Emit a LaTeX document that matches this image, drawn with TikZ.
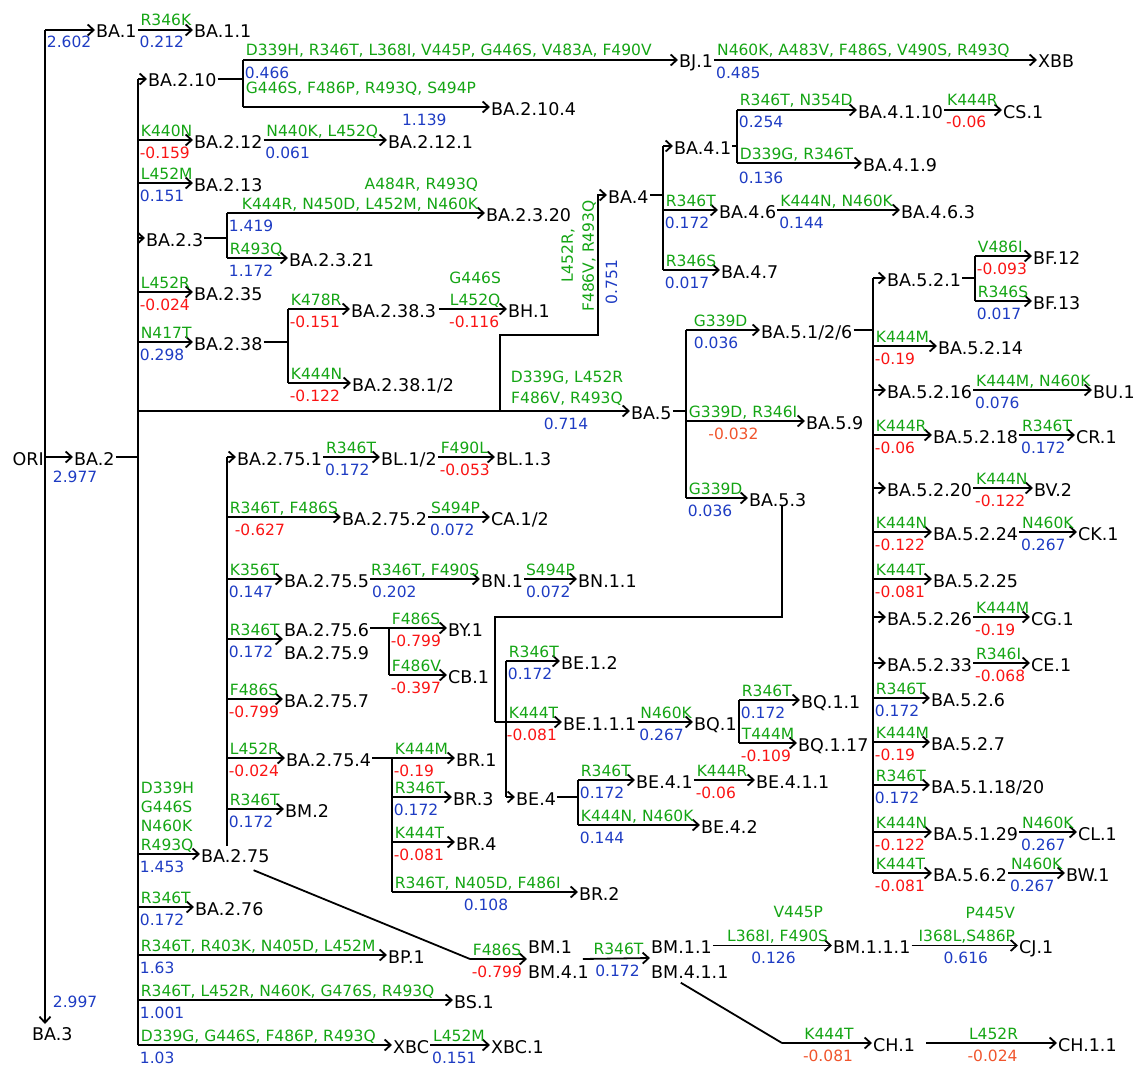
\documentclass[tikz,border=0pt]{standalone}
\usepackage{fontspec}
\setmainfont{DejaVu Sans}
\usetikzlibrary{arrows.meta}
\definecolor{cgreen}{RGB}{20,165,20}
\definecolor{cblue}{RGB}{30,60,195}
\definecolor{cred}{RGB}{250,20,20}
\definecolor{corange}{RGB}{240,85,45}
\newcommand{\linfont}{\fontsize{17.5}{21}\selectfont}
\newcommand{\mutfont}{\fontsize{15.5}{21}\selectfont}

\begin{document}
\begin{tikzpicture}[x=1pt, y=-1pt,
  ln/.style={line width=1.8pt},
  arr/.style={ln, -{Straight Barb[length=6pt, width=11pt]}},
  lin/.style={font=\linfont, anchor=west, inner xsep=1pt, inner ysep=0pt,
              text height=16pt, text depth=0pt},
  mut/.style={font=\mutfont, text=cgreen, anchor=base west, inner sep=0pt,
              xshift=2pt, yshift=4pt},
  vb/.style={font=\mutfont, text=cblue, anchor=base west, inner sep=0pt,
             xshift=1pt, yshift=-18pt},
  vr/.style={vb, text=cred},
  vo/.style={vb, text=corange},
  ctr/.style={anchor=base, pos=0.5},
  rgt/.style={anchor=base east, pos=1, xshift=-8pt},
]
\useasboundingbox (0,0) rectangle (1136,1065);

% root
\coordinate (b0) at (45,30);
\node[lin] (ba1) at (95,30) {BA.1};
\node[lin] (ba11) at (193,30) {BA.1.1};
\node[lin, anchor=east] (ori) at (45,457) {ORI};
\node[lin] (ba2) at (73,457) {BA.2};
\node[lin, anchor=north west] (ba3) at (31,1024) {BA.3};
\draw[arr] (b0) -- (b0 |- ba3.north) node[vb, pos=1, xshift=6pt, yshift=35pt] (v-ba3) {2.997};
\draw[arr] (b0) -- (ba1.west) node[vb, pos=0] (v-ba1) {2.602};
\draw[arr] (ori.east) -- (ba2.west) node[vb, pos=0, xshift=6pt, yshift=-7pt] (v-ba2) {2.977};
\draw[arr] (ba1.east) -- (ba11.west) node[mut, pos=0] (m-ba11) {R346K} node[vb, pos=0] (v-ba11) {0.212};

% BA.2 children
\coordinate (b2) at (138,79);
\node[lin] (ba210) at (147,79) {BA.2.10};
\node[lin] (ba212) at (193,140) {BA.2.12};
\node[lin] (ba213) at (193,183) {BA.2.13};
\node[lin] (ba23) at (145,238) {BA.2.3};
\node[lin] (ba235) at (193,292) {BA.2.35};
\node[lin] (ba238) at (193,342) {BA.2.38};
\coordinate (j5) at (500,411);
\node[lin] (ba275) at (200,854) {BA.2.75};
\node[lin] (ba276) at (194,907) {BA.2.76};
\node[lin] (bp1) at (387,955) {BP.1};
\node[lin] (bs1) at (453,1000) {BS.1};
\node[lin] (xbc) at (392,1045) {XBC};
\node[lin] (xbc1) at (490,1045) {XBC.1};
\draw[ln] (ba2.east) -- (ba2.east -| b2);
\draw[ln] (b2) -- (b2 |- xbc.west);
\draw[arr] (b2) -- (ba210.west);
\draw[arr] (b2 |- ba212.west) -- (ba212.west) node[mut, pos=0] (m-ba212) {K440N} node[vr, pos=0] (v-ba212) {-0.159};
\draw[arr] (b2 |- ba213.west) -- (ba213.west) node[mut, pos=0] (m-ba213) {L452M} node[vb, pos=0] (v-ba213) {0.151};
\draw[arr] (b2 |- ba23.west) -- (ba23.west);
\draw[arr] (b2 |- ba235.west) -- (ba235.west) node[mut, pos=0] (m-ba235) {L452R} node[vr, pos=0] (v-ba235) {-0.024};
\draw[arr] (b2 |- ba238.west) -- (ba238.west) node[mut, pos=0] (m-ba238) {N417T} node[vb, pos=0] (v-ba238) {0.298};
\draw[arr] (b2 |- ba275.west) -- (ba275.west)
  node[mut, pos=0] (m-ba275) {R493Q}
  node[mut, pos=0, yshift=19pt] (m2-ba275) {N460K}
  node[mut, pos=0, yshift=38pt] (m3-ba275) {G446S}
  node[mut, pos=0, yshift=57pt] (m4-ba275) {D339H}
  node[vb, pos=0] (v-ba275) {1.453};
\draw[arr] (b2 |- ba276.west) -- (ba276.west) node[mut, pos=0] (m-ba276) {R346T} node[vb, pos=0] (v-ba276) {0.172};
\draw[arr] (b2 |- bp1.west) -- (bp1.west) node[mut, pos=0] (m-bp1) {R346T, R403K, N405D, L452M} node[vb, pos=0] (v-bp1) {1.63};
\draw[arr] (b2 |- bs1.west) -- (bs1.west) node[mut, pos=0] (m-bs1) {R346T, L452R, N460K, G476S, R493Q} node[vb, pos=0] (v-bs1) {1.001};
\draw[arr] (b2 |- xbc.west) -- (xbc.west) node[mut, pos=0] (m-xbc) {D339G, G446S, F486P, R493Q} node[vb, pos=0] (v-xbc) {1.03};
\draw[arr] (xbc.east) -- (xbc1.west) node[mut, pos=0] (m-xbc1) {L452M} node[vb, pos=0] (v-xbc1) {0.151};

% BA.2.10
\coordinate (k210) at (243,60);
\node[lin] (bj1) at (678,60) {BJ.1};
\node[lin] (xbb) at (1037,60) {XBB};
\node[lin] (ba2104) at (490,107) {BA.2.10.4};
\draw[ln] (ba210.east) -- (ba210.east -| k210);
\draw[ln] (k210) -- (k210 |- ba2104.west);
\draw[arr] (k210) -- (bj1.west) node[mut, pos=0] (m-bj1) {D339H, R346T, L368I, V445P, G446S, V483A, F490V} node[vb, pos=0] (v-bj1) {0.466};
\draw[arr] (k210 |- ba2104.west) -- (ba2104.west) node[mut, pos=0, yshift=9pt] (m-ba2104) {G446S, F486P, R493Q, S494P} node[vb, pos=0.73, anchor=base] (v-ba2104) {1.139};
\draw[arr] (bj1.east) -- (xbb.west) node[mut, pos=0] (m-xbb) {N460K, A483V, F486S, V490S, R493Q} node[vb, pos=0] (v-xbb) {0.485};

% BA.2.12
\node[lin] (ba2121) at (387,140) {BA.2.12.1};
\draw[arr] (ba212.east) -- (ba2121.west) node[mut, pos=0] (m-ba2121) {N440K, L452Q} node[vb, pos=0] (v-ba2121) {0.061};

% BA.2.3
\coordinate (k23) at (227,213);
\node[lin] (ba2320) at (485,213) {BA.2.3.20};
\node[lin] (ba2321) at (288,258) {BA.2.3.21};
\draw[ln] (ba23.east) -- (ba23.east -| k23);
\draw[ln] (k23) -- (k23 |- ba2321.west);
\draw[arr] (k23) -- (ba2320.west)
  node[mut, rgt] (m-ba2320) {K444R, N450D, L452M, N460K}
  node[mut, rgt, yshift=20pt] (m2-ba2320) {A484R, R493Q}
  node[vb, pos=0] (v-ba2320) {1.419};
\draw[arr] (k23 |- ba2321.west) -- (ba2321.west) node[mut, pos=0] (m-ba2321) {R493Q} node[vb, pos=0] (v-ba2321) {1.172};

% BA.2.38
\coordinate (k238) at (288,309);
\node[lin] (ba2383) at (350,309) {BA.2.38.3};
\node[lin] (ba23812) at (351,383) {BA.2.38.1/2};
\node[lin] (bh1) at (507,309) {BH.1};
\draw[ln] (ba238.east) -- (ba238.east -| k238);
\draw[ln] (k238) -- (k238 |- ba23812.west);
\draw[arr] (k238) -- (ba2383.west) node[mut, pos=0] (m-ba2383) {K478R} node[vr, pos=0] (v-ba2383) {-0.151};
\draw[arr] (k238 |- ba23812.west) -- (ba23812.west) node[mut, pos=0] (m-ba23812) {K444N} node[vr, pos=0] (v-ba23812) {-0.122};
\draw[arr] ([xshift=2pt]ba2383.east) -- (bh1.west)
  node[mut, ctr] (m-bh1) {L452Q}
  node[mut, ctr, yshift=22pt] (m2-bh1) {G446S}
  node[vr, ctr] (v-bh1) {-0.116};

% BA.5 and BA.4
\coordinate (k4) at (598,335);
\node[lin] (ba5) at (630,411) {BA.5};
\node[lin] (ba4) at (607,195) {BA.4};
\draw[ln] (b2 |- j5) -- (j5);
\draw[arr] (j5) -- (ba5.west)
  node[mut, ctr, yshift=4pt] (m-ba5) {F486V, R493Q}
  node[mut, ctr, yshift=25pt] (m2-ba5) {D339G, L452R}
  node[vb, ctr] (v-ba5) {0.714};
\draw[arr] (j5) |- (k4) |- (ba4.west);
\node[font=\mutfont, text=cgreen, rotate=90, align=center, anchor=south, inner sep=0pt] (m-ba4) at (596,256) {L452R,\\F486V, R493Q};
\node[font=\mutfont, text=cblue, rotate=90, anchor=base, inner sep=0pt] (v-ba4) at (617,282) {0.751};

% BA.4 children
\coordinate (k4b) at (663,146);
\node[lin] (ba41) at (673,146) {BA.4.1};
\node[lin] (ba46) at (718,210) {BA.4.6};
\node[lin] (ba47) at (720,270) {BA.4.7};
\draw[ln] (ba4.east) -- (ba4.east -| k4b);
\draw[ln] (k4b) -- (k4b |- ba47.west);
\draw[arr] (k4b) -- (ba41.west);
\draw[arr] (k4b |- ba46.west) -- (ba46.west) node[mut, pos=0] (m-ba46) {R346T} node[vb, pos=0] (v-ba46) {0.172};
\draw[arr] (k4b |- ba47.west) -- (ba47.west) node[mut, pos=0] (m-ba47) {R346S} node[vb, pos=0] (v-ba47) {0.017};
\coordinate (k41) at (737,110);
\node[lin] (ba4110) at (857,110) {BA.4.1.10};
\node[lin] (ba419) at (862,163) {BA.4.1.9};
\node[lin] (cs1) at (1002,110) {CS.1};
\node[lin] (ba463) at (900,210) {BA.4.6.3};
\draw[ln] (ba41.east) -- (ba41.east -| k41);
\draw[ln] (k41) -- (k41 |- ba419.west);
\draw[arr] (k41) -- (ba4110.west) node[mut, pos=0] (m-ba4110) {R346T, N354D} node[vb, pos=0] (v-ba4110) {0.254};
\draw[arr] (k41 |- ba419.west) -- (ba419.west) node[mut, pos=0] (m-ba419) {D339G, R346T} node[vb, pos=0, yshift=-2pt] (v-ba419) {0.136};
\draw[arr] (ba4110.east) -- (cs1.west) node[mut, pos=0] (m-cs1) {K444R} node[vr, pos=0] (v-cs1) {-0.06};
\draw[arr] (ba46.east) -- (ba463.west) node[mut, pos=0] (m-ba463) {K444N, N460K} node[vb, pos=0] (v-ba463) {0.144};

% BA.5 children
\coordinate (k5) at (686,330);
\node[lin] (ba5126) at (760,330) {BA.5.1/2/6};
\node[lin] (ba59) at (805,421) {BA.5.9};
\node[lin] (ba53) at (748,498) {BA.5.3};
\draw[ln] (ba5.east) -- (ba5.east -| k5);
\draw[ln] (k5) -- (k5 |- ba53.west);
\draw[arr] (k5) -- (ba5126.west) node[mut, pos=0, xshift=5pt] (m-ba5126) {G339D} node[vb, pos=0, xshift=6pt] (v-ba5126) {0.036};
\draw[arr] (k5 |- ba59.west) -- (ba59.west) node[mut, pos=0] (m-ba59) {G339D, R346I} node[vo, pos=0.39, anchor=base] (v-ba59) {-0.032};
\draw[arr] (k5 |- ba53.west) -- (ba53.west) node[mut, pos=0] (m-ba53) {G339D} node[vb, pos=0] (v-ba53) {0.036};

% BA.5.1/2/6 children
\coordinate (k5b) at (873,278);
\node[lin] (ba521) at (886,278) {BA.5.2.1};
\node[lin] (ba5214) at (937,346) {BA.5.2.14};
\node[lin] (ba5216) at (886,390) {BA.5.2.16};
\node[lin] (ba5218) at (932,435) {BA.5.2.18};
\node[lin] (ba5220) at (886,488) {BA.5.2.20};
\node[lin] (ba5224) at (932,532) {BA.5.2.24};
\node[lin] (ba5225) at (932,579) {BA.5.2.25};
\node[lin] (ba5226) at (886,617) {BA.5.2.26};
\node[lin] (ba5233) at (886,663) {BA.5.2.33};
\node[lin] (ba526) at (930,698) {BA.5.2.6};
\node[lin] (ba527) at (930,742) {BA.5.2.7};
\node[lin] (ba511820) at (930,785) {BA.5.1.18/20};
\node[lin] (ba5129) at (932,832) {BA.5.1.29};
\node[lin] (ba562) at (932,873) {BA.5.6.2};
\draw[ln] (ba5126.east) -- (ba5126.east -| k5b);
\draw[ln] (k5b) -- (k5b |- ba562.west);
\draw[arr] (k5b) -- (ba521.west);
\draw[arr] (k5b |- ba5214.west) -- (ba5214.west) node[mut, pos=0] (m-ba5214) {K444M} node[vr, pos=0] (v-ba5214) {-0.19};
\draw[arr] (k5b |- ba5216.west) -- (ba5216.west);
\draw[arr] (k5b |- ba5218.west) -- (ba5218.west) node[mut, pos=0] (m-ba5218) {K444R} node[vr, pos=0] (v-ba5218) {-0.06};
\draw[arr] (k5b |- ba5220.west) -- (ba5220.west);
\draw[arr] (k5b |- ba5224.west) -- (ba5224.west) node[mut, pos=0] (m-ba5224) {K444N} node[vr, pos=0] (v-ba5224) {-0.122};
\draw[arr] (k5b |- ba5225.west) -- (ba5225.west) node[mut, pos=0] (m-ba5225) {K444T} node[vr, pos=0] (v-ba5225) {-0.081};
\draw[arr] (k5b |- ba5226.west) -- (ba5226.west);
\draw[arr] (k5b |- ba5233.west) -- (ba5233.west);
\draw[arr] (k5b |- ba526.west) -- (ba526.west) node[mut, pos=0] (m-ba526) {R346T} node[vb, pos=0] (v-ba526) {0.172};
\draw[arr] (k5b |- ba527.west) -- (ba527.west) node[mut, pos=0] (m-ba527) {K444M} node[vr, pos=0] (v-ba527) {-0.19};
\draw[arr] (k5b |- ba511820.west) -- (ba511820.west) node[mut, pos=0] (m-ba511820) {R346T} node[vb, pos=0] (v-ba511820) {0.172};
\draw[arr] (k5b |- ba5129.west) -- (ba5129.west) node[mut, pos=0] (m-ba5129) {K444N} node[vr, pos=0] (v-ba5129) {-0.122};
\draw[arr] (k5b |- ba562.west) -- (ba562.west) node[mut, pos=0] (m-ba562) {K444T} node[vr, pos=0] (v-ba562) {-0.081};

% second level of BA.5.2.x
\coordinate (k521) at (975,256);
\node[lin] (bf12) at (1032,256) {BF.12};
\node[lin] (bf13) at (1032,301) {BF.13};
\node[lin] (bu1) at (1092,390) {BU.1};
\node[lin] (cr1) at (1075,435) {CR.1};
\node[lin] (bv2) at (1033,488) {BV.2};
\node[lin] (ck1) at (1077,532) {CK.1};
\node[lin] (cg1) at (1030,617) {CG.1};
\node[lin] (ce1) at (1030,663) {CE.1};
\node[lin] (cl1) at (1077,832) {CL.1};
\node[lin] (bw1) at (1065,873) {BW.1};
\draw[ln] (ba521.east) -- (ba521.east -| k521);
\draw[ln] (k521) -- (k521 |- bf13.west);
\draw[arr] (k521) -- (bf12.west) node[mut, pos=0] (m-bf12) {V486I} node[vr, pos=0] (v-bf12) {-0.093};
\draw[arr] (k521 |- bf13.west) -- (bf13.west) node[mut, pos=0] (m-bf13) {R346S} node[vb, pos=0] (v-bf13) {0.017};
\draw[arr] (ba5216.east) -- (bu1.west) node[mut, pos=0] (m-bu1) {K444M, N460K} node[vb, pos=0] (v-bu1) {0.076};
\draw[arr] (ba5218.east) -- (cr1.west) node[mut, pos=0] (m-cr1) {R346T} node[vb, pos=0] (v-cr1) {0.172};
\draw[arr] (ba5220.east) -- (bv2.west) node[mut, pos=0] (m-bv2) {K444N} node[vr, pos=0] (v-bv2) {-0.122};
\draw[arr] (ba5224.east) -- (ck1.west) node[mut, pos=0] (m-ck1) {N460K} node[vb, pos=0] (v-ck1) {0.267};
\draw[arr] (ba5226.east) -- (cg1.west) node[mut, pos=0] (m-cg1) {K444M} node[vr, pos=0] (v-cg1) {-0.19};
\draw[arr] (ba5233.east) -- (ce1.west) node[mut, pos=0] (m-ce1) {R346I} node[vr, pos=0] (v-ce1) {-0.068};
\draw[arr] (ba5129.east) -- (cl1.west) node[mut, pos=0] (m-cl1) {N460K} node[vb, pos=0] (v-cl1) {0.267};
\draw[arr] (ba562.east) -- (bw1.west) node[mut, pos=0] (m-bw1) {N460K} node[vb, pos=0] (v-bw1) {0.267};

% BA.5.3 -> BE
\coordinate (kbe1) at (782,617);
\coordinate (kbe2) at (495,617);
\coordinate (kbe3) at (495,722);
\coordinate (kbe) at (506,661);
\node[lin] (be12) at (560,661) {BE.1.2};
\node[lin] (be111) at (562,722) {BE.1.1.1};
\node[lin] (be4) at (515,797) {BE.4};
\draw[ln] (ba53.south -| kbe1) -- (kbe1) -- (kbe2) -- (kbe3);
\draw[ln] (kbe) -- (kbe |- be4.west);
\draw[arr] (kbe) -- (be12.west) node[mut, pos=0] (m-be12) {R346T} node[vb, pos=0] (v-be12) {0.172};
\draw[arr] (kbe3) -- (be111.west) node[mut, pos=0, xshift=11pt] (m-be111) {K444T} node[vr, pos=0, xshift=10pt] (v-be111) {-0.081};
\draw[arr] (kbe |- be4.west) -- (be4.west);
\coordinate (kbq) at (739,700);
\node[lin] (bq1) at (693,722) {BQ.1};
\node[lin] (bq11) at (800,700) {BQ.1.1};
\node[lin] (bq117) at (797,743) {BQ.1.17};
\draw[arr] (be111.east) -- (bq1.west) node[mut, pos=0] (m-bq1) {N460K} node[vb, pos=0] (v-bq1) {0.267};
\draw[ln] (bq1.east) -- (bq1.east -| kbq);
\draw[ln] (kbq) -- (kbq |- bq117.west);
\draw[arr] (kbq) -- (bq11.west) node[mut, pos=0] (m-bq11) {R346T} node[vb, pos=0] (v-bq11) {0.172};
\draw[arr] (kbq |- bq117.west) -- (bq117.west) node[mut, pos=0] (m-bq117) {T444M} node[vr, pos=0] (v-bq117) {-0.109};
\coordinate (kbe4) at (578,780);
\node[lin] (be41) at (635,780) {BE.4.1};
\node[lin] (be42) at (700,825) {BE.4.2};
\node[lin] (be411) at (755,780) {BE.4.1.1};
\draw[ln] (be4.east) -- (be4.east -| kbe4);
\draw[ln] (kbe4) -- (kbe4 |- be42.west);
\draw[arr] (kbe4) -- (be41.west) node[mut, pos=0] (m-be41) {R346T} node[vb, pos=0] (v-be41) {0.172};
\draw[arr] (kbe4 |- be42.west) -- (be42.west) node[mut, pos=0] (m-be42) {K444N, N460K} node[vb, pos=0] (v-be42) {0.144};
\draw[arr] (be41.east) -- (be411.west) node[mut, pos=0] (m-be411) {K444R} node[vr, pos=0] (v-be411) {-0.06};

% BA.2.75 children
\coordinate (k275) at (227,457);
\node[lin] (ba2751) at (236,457) {BA.2.75.1};
\node[lin] (ba2752) at (341,517) {BA.2.75.2};
\node[lin] (ba2755) at (283,579) {BA.2.75.5};
\node[lin] (ba2756) at (283,628) {BA.2.75.6};
\node[lin] (ba2759) at (283,651) {BA.2.75.9};
\coordinate (c2756) at (283,639);
\node[lin] (ba2757) at (283,699) {BA.2.75.7};
\node[lin] (ba2754) at (285,758) {BA.2.75.4};
\node[lin] (bm2) at (284,809) {BM.2};
\draw[ln] (k275) -- (k275 |- ba275.north);
\draw[arr] (k275) -- (ba2751.west);
\draw[arr] (k275 |- ba2752.west) -- (ba2752.west) node[mut, pos=0] (m-ba2752) {R346T, F486S} node[vr, pos=0, xshift=6pt] (v-ba2752) {-0.627};
\draw[arr] (k275 |- ba2755.west) -- (ba2755.west) node[mut, pos=0] (m-ba2755) {K356T} node[vb, pos=0] (v-ba2755) {0.147};
\draw[arr] (k275 |- c2756) -- (c2756) node[mut, pos=0] (m-ba2756) {R346T} node[vb, pos=0] (v-ba2756) {0.172};
\draw[arr] (k275 |- ba2757.west) -- (ba2757.west) node[mut, pos=0] (m-ba2757) {F486S} node[vr, pos=0] (v-ba2757) {-0.799};
\draw[arr] (k275 |- ba2754.west) -- (ba2754.west) node[mut, pos=0] (m-ba2754) {L452R} node[vr, pos=0] (v-ba2754) {-0.024};
\draw[arr] (k275 |- bm2.west) -- (bm2.west) node[mut, pos=0] (m-bm2) {R346T} node[vb, pos=0] (v-bm2) {0.172};

\node[lin] (bl12) at (380,457) {BL.1/2};
\node[lin] (bl13) at (495,457) {BL.1.3};
\node[lin] (ca12) at (490,517) {CA.1/2};
\node[lin] (bn1) at (480,579) {BN.1};
\node[lin] (bn11) at (577,579) {BN.1.1};
\draw[arr] (ba2751.east) -- (bl12.west) node[mut, pos=0] (m-bl12) {R346T} node[vb, pos=0] (v-bl12) {0.172};
\draw[arr] (bl12.east) -- (bl13.west) node[mut, pos=0] (m-bl13) {F490L} node[vr, pos=0] (v-bl13) {-0.053};
\draw[arr] (ba2752.east) -- (ca12.west) node[mut, pos=0] (m-ca12) {S494P} node[vb, pos=0] (v-ca12) {0.072};
\draw[arr] (ba2755.east) -- (bn1.west) node[mut, pos=0, xshift=-2pt] (m-bn1) {R346T, F490S} node[vb, pos=0] (v-bn1) {0.202};
\draw[arr] (bn1.east) -- (bn11.west) node[mut, pos=0, xshift=-1pt] (m-bn11) {S494P} node[vb, pos=0] (v-bn11) {0.072};

\coordinate (k2756) at (389,628);
\node[lin] (by1) at (447,628) {BY.1};
\node[lin] (cb1) at (447,675) {CB.1};
\draw[ln] (ba2756.east) -- (k2756) -- (k2756 |- cb1.west);
\draw[arr] (k2756) -- (by1.west) node[mut, pos=0] (m-by1) {F486S} node[vr, pos=0] (v-by1) {-0.799};
\draw[arr] (k2756 |- cb1.west) -- (cb1.west) node[mut, pos=0] (m-cb1) {F486V} node[vr, pos=0] (v-cb1) {-0.397};

\coordinate (k2754) at (392,758);
\node[lin] (br1) at (455,758) {BR.1};
\node[lin] (br3) at (452,797) {BR.3};
\node[lin] (br4) at (455,842) {BR.4};
\node[lin] (br2) at (578,892) {BR.2};
\draw[ln] (ba2754.east) -- (k2754) -- (k2754 |- br2.west);
\draw[arr] (k2754) -- (br1.west) node[mut, pos=0] (m-br1) {K444M} node[vr, pos=0] (v-br1) {-0.19};
\draw[arr] (k2754 |- br3.west) -- (br3.west) node[mut, pos=0] (m-br3) {R346T} node[vb, pos=0] (v-br3) {0.172};
\draw[arr] (k2754 |- br4.west) -- (br4.west) node[mut, pos=0] (m-br4) {K444T} node[vr, pos=0] (v-br4) {-0.081};
\draw[arr] (k2754 |- br2.west) -- (br2.west) node[mut, pos=0] (m-br2) {R346T, N405D, F486I} node[vb, ctr] (v-br2) {0.108};

% BA.2.75 -> BM.1 -> BM.1.1 -> ...
\coordinate (kbm) at (470,959);
\coordinate (cbm1) at (527,959);
\coordinate (cbm11) at (650,958);
\coordinate (kch) at (782,1043);
\node[lin] (bm1) at (527,945.5) {BM.1};
\node[lin] (bm41) at (527,970.5) {BM.4.1};
\node[lin] (bm11) at (650,945.5) {BM.1.1};
\node[lin] (bm411) at (650,970.5) {BM.4.1.1};
\node[lin] (bm111) at (832,945.5) {BM.1.1.1};
\node[lin] (cj1) at (1018,945.5) {CJ.1};
\node[lin] (ch1) at (872,1043) {CH.1};
\node[lin] (ch11) at (1057,1043) {CH.1.1};
\draw[ln] ([xshift=-17pt, yshift=-8pt]ba275.south east) -- (kbm);
\draw[arr] (kbm) -- (cbm1) node[mut, pos=0] (m-bm1) {F486S} node[vr, pos=0] (v-bm1) {-0.799};
\draw[arr] ([xshift=-7pt]cbm1 -| bm41.east) -- (cbm11) node[mut, ctr] (m-bm11) {R346T} node[vb, ctr] (v-bm11) {0.172};
\draw[arr] (bm11.east) -- (bm111.west)
  node[mut, rgt, xshift=3pt] (m-bm111) {L368I, F490S}
  node[mut, rgt, xshift=-2pt, yshift=24pt] (m2-bm111) {V445P}
  node[vb, ctr] (v-bm111) {0.126};
\draw[arr] (bm111.east) -- (cj1.west)
  node[mut, rgt, xshift=4pt] (m-cj1) {I368L,S486P}
  node[mut, rgt, xshift=4pt, yshift=23pt] (m2-cj1) {P445V}
  node[vb, ctr] (v-cj1) {0.616};
\draw[ln] ([xshift=-9pt, yshift=-4pt]bm411.south) -- (kch);
\draw[arr] (kch) -- (ch1.west) node[mut, ctr] (m-ch1) {K444T} node[vo, ctr] (v-ch1) {-0.081};
\draw[arr] ([xshift=10pt]ch1.east) -- (ch11.west) node[mut, ctr] (m-ch11) {L452R} node[vo, ctr] (v-ch11) {-0.024};

\end{tikzpicture}
\end{document}
